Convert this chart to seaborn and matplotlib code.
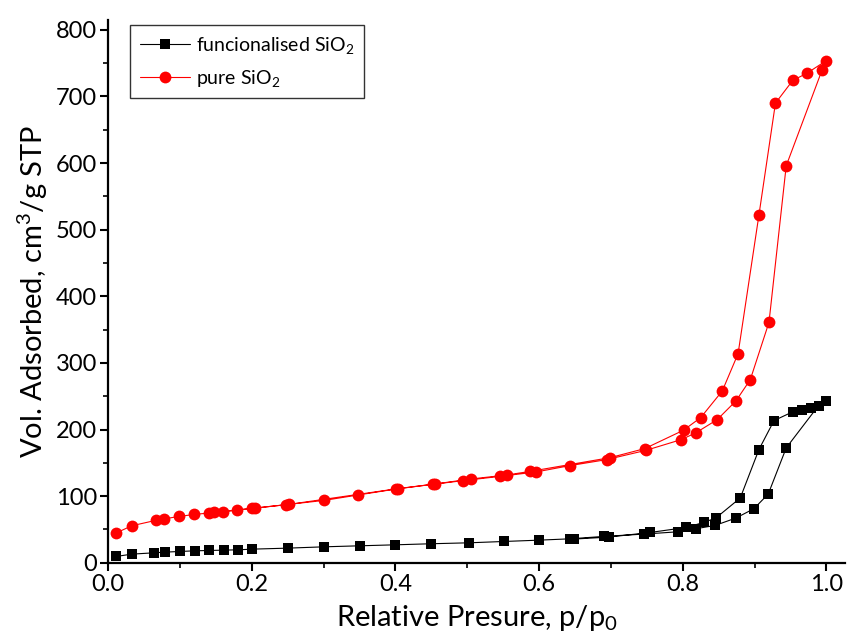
import matplotlib
matplotlib.use("Agg")
import matplotlib.pyplot as plt
import seaborn as sns
import pandas as pd
from matplotlib.ticker import MultipleLocator

# pure SiO2: adsorption up to 1.0, then desorption back down
pure_ads_x = [0.011, 0.033, 0.066, 0.078, 0.099, 0.120, 0.140, 0.160, 0.180, 0.201, 0.247, 0.301,
              0.348, 0.401, 0.452, 0.494, 0.546, 0.596, 0.643, 0.694, 0.749, 0.798, 0.818, 0.848,
              0.874, 0.894, 0.920, 0.944, 0.994, 1.000]
pure_ads_y = [44.7, 55.6, 63.6, 66.0, 69.6, 72.6, 74.7, 76.7, 79.2, 81.7, 87.2, 93.7,
              101.8, 110.8, 117.8, 123.3, 129.8, 136.4, 145.9, 154.9, 168.9, 185.0, 195.0, 215.0,
              243.0, 275.0, 361.0, 596.0, 740.0, 754.0]
pure_des_x = [0.973, 0.953, 0.929, 0.906, 0.877, 0.855, 0.825, 0.801, 0.747, 0.699, 0.588,
              0.555, 0.505, 0.455, 0.403, 0.252, 0.205, 0.147]
pure_des_y = [735.0, 724.0, 690.0, 522.0, 314.0, 258.0, 218.0, 199.0, 171.4, 157.9, 137.3,
              131.8, 125.8, 118.3, 111.3, 87.7, 82.2, 75.6]

# functionalised SiO2
func_ads_x = [0.011, 0.033, 0.064, 0.079, 0.100, 0.121, 0.141, 0.161, 0.181, 0.201, 0.250, 0.301,
              0.350, 0.400, 0.450, 0.502, 0.551, 0.600, 0.643, 0.690, 0.746, 0.794, 0.818, 0.845,
              0.874, 0.899, 0.919, 0.944, 0.989, 0.999]
func_ads_y = [9.5, 13.0, 15.0, 16.0, 17.0, 18.0, 18.5, 19.0, 19.5, 20.5, 22.0, 24.0,
              25.5, 27.0, 28.6, 30.0, 32.0, 34.0, 36.0, 39.6, 43.1, 46.6, 51.1, 56.1,
              67.2, 81.2, 103.3, 172.5, 236.0, 243.6]
func_des_x = [0.978, 0.966, 0.953, 0.927, 0.906, 0.880, 0.846, 0.829, 0.805, 0.755, 0.697, 0.648]
func_des_y = [232.6, 230.0, 226.6, 213.5, 170.0, 97.3, 67.2, 60.6, 53.1, 45.6, 38.6, 35.6]

sns.set_style("ticks")
plt.rcParams['font.family'] = ['Lato', 'DejaVu Sans']
plt.rcParams['mathtext.default'] = 'regular'
plt.rcParams['text.color'] = 'black'
plt.rcParams['axes.labelcolor'] = 'black'
plt.rcParams['xtick.color'] = 'black'
plt.rcParams['ytick.color'] = 'black'

func = pd.DataFrame({'p': func_ads_x + func_des_x, 'v': func_ads_y + func_des_y})
pure = pd.DataFrame({'p': pure_ads_x + pure_des_x, 'v': pure_ads_y + pure_des_y})

fig = plt.figure(figsize=(8.58, 6.41), dpi=100)
ax = fig.add_axes([0.126, 0.122, 0.859, 0.847])

sns.lineplot(data=func, x='p', y='v', sort=False, color='black', lw=0.8, marker='s',
             markersize=7, markeredgewidth=0, label='funcionalised SiO$_{2}$', ax=ax)
sns.lineplot(data=pure, x='p', y='v', sort=False, color='#ff0000', lw=0.8, marker='o',
             markersize=8.5, markeredgewidth=0, label='pure SiO$_{2}$', ax=ax)

ax.set_xlim(0, 1.026)
ax.set_ylim(0, 815)
ax.xaxis.set_major_locator(MultipleLocator(0.2))
ax.xaxis.set_minor_locator(MultipleLocator(0.1))
ax.yaxis.set_major_locator(MultipleLocator(100))
ax.yaxis.set_minor_locator(MultipleLocator(50))
ax.set_xticklabels([f'{t:.1f}' for t in ax.get_xticks()])
ax.tick_params(which='major', length=6, width=1.5, labelsize=17, direction='out', pad=2)
ax.tick_params(which='minor', length=3.5, width=1.2, direction='out')
sns.despine(ax=ax)
for s in ['left', 'bottom']:
    ax.spines[s].set_linewidth(1.6)
    ax.spines[s].set_color('black')

ax.set_xlabel('Relative Presure, p/p$_{0}$', fontsize=21, labelpad=6)
ax.set_ylabel('Vol. Adsorbed, cm$^{3}$/g STP', fontsize=21, labelpad=4)

leg = ax.legend(loc='upper left', bbox_to_anchor=(0.03, 0.99), borderaxespad=0, fontsize=14,
                frameon=True, fancybox=False, edgecolor='black', handlelength=2.6,
                borderpad=0.5, labelspacing=0.6, handletextpad=0.3)
leg.get_frame().set_linewidth(1.0)

fig.savefig('out.png', dpi=100)
